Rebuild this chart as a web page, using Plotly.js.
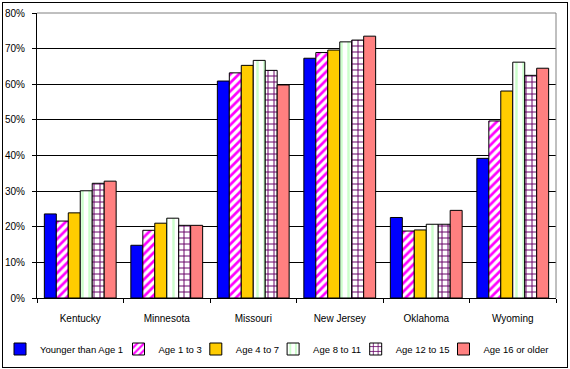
<!DOCTYPE html>
<html>
<head>
<meta charset="utf-8">
<script src="https://cdn.plot.ly/plotly-3.0.1.min.js"></script>
<style>
  body { margin: 0; background: white; }
  #wrap { position: relative; width: 570px; height: 369px; }
  #frame { position: absolute; left: 2px; top: 2px; width: 564px; height: 364px;
           border: 1px solid black; pointer-events: none; }
</style>
</head>
<body>
<div id="wrap">
  <div id="graph"></div>
  <div id="frame"></div>
</div>
<script>
// states along the x axis
var states = ['Kentucky', 'Minnesota', 'Missouri', 'New Jersey', 'Oklahoma', 'Wyoming'];

// share (%) per age group
var under1    = [23.6, 14.8, 60.9, 67.3, 22.6, 39.2];
var age1to3   = [21.6, 19.0, 63.2, 68.9, 18.8, 49.7];
var age4to7   = [23.9, 21.0, 65.3, 69.6, 19.1, 58.1];
var age8to11  = [30.1, 22.4, 66.7, 71.9, 20.7, 66.2];
var age12to15 = [32.2, 20.4, 63.9, 72.4, 20.7, 62.5];
var age16up   = [32.8, 20.4, 59.8, 73.5, 24.6, 64.5];

var seriesNames = ['Younger than Age 1', 'Age 1 to 3', 'Age 4 to 7',
                   'Age 8 to 11', 'Age 12 to 15', 'Age 16 or older'];

var yTicks = [0, 10, 20, 30, 40, 50, 60, 70, 80];

var fnt = 'Liberation Sans, Arial, sans-serif';

// figure size and plot margins, px
var L = 37, R = 14, T = 13, B = 71, W = 570, H = 369;
var plotW = W - L - R, plotH = H - T - B;

// one legend per series so they sit in one row like the original (left edge, px)
var legendLeft = [0, 118.5, 195.8, 273.1, 355.7, 443.5];
var legendMidY = 349;

// helper to make one bar trace
function bar(i, vals, color, pattern) {
  var m = { color: color, line: { color: 'black', width: 1 } };
  if (pattern) m.pattern = pattern;
  return { type: 'bar', x: states, y: vals, name: seriesNames[i], marker: m,
           legend: i === 0 ? 'legend' : 'legend' + (i + 1) };
}

var data = [
  bar(0, under1, '#0000FF'),
  bar(1, age1to3, 'white', { shape: '/', fgcolor: '#FF00FF', bgcolor: 'white', size: 6, solidity: 0.45 }),
  bar(2, age4to7, '#FFCC00'),
  bar(3, age8to11, 'white', { shape: '|', fgcolor: '#CCFFCC', bgcolor: 'white', size: 7, solidity: 0.35 }),
  bar(4, age12to15, 'white', { shape: '+', fgcolor: '#660066', bgcolor: 'white', size: 6, solidity: 0.3 }),
  bar(5, age16up, '#FF8080')
];

var layout = {
  width: W,
  height: H,
  // autoexpand off so the legends don't shove the plot area around
  margin: { l: L, r: R, t: T, b: B, pad: 0, autoexpand: false },
  paper_bgcolor: 'white',
  plot_bgcolor: 'white',
  font: { family: fnt, size: 10, color: 'black' },
  barmode: 'group',
  bargap: 0.17,
  bargroupgap: 0,
  xaxis: {
    type: 'category',
    tickson: 'boundaries',
    ticks: 'outside',
    ticklen: 4,
    tickcolor: 'black',
    ticklabelstandoff: 11,
    showline: true,
    linecolor: 'black',
    linewidth: 1,
    showgrid: false,
    tickfont: { family: fnt, size: 10 }
  },
  yaxis: {
    range: [0, 80],
    tickvals: yTicks,
    ticktext: yTicks.map(function (v) { return v + '%'; }),
    ticks: 'outside',
    ticklen: 4,
    tickcolor: 'black',
    ticklabelstandoff: 5,
    showline: true,
    linecolor: 'black',
    linewidth: 1,
    showgrid: true,
    gridcolor: 'black',
    gridwidth: 1,
    zeroline: false,
    tickfont: { family: fnt, size: 10 }
  },
  // grey plot-area border on top and right
  shapes: [
    { type: 'line', xref: 'paper', yref: 'paper', x0: 0, x1: 1, y0: 1, y1: 1,
      line: { color: '#808080', width: 1 }, layer: 'above' },
    { type: 'line', xref: 'paper', yref: 'paper', x0: 1, x1: 1, y0: 0, y1: 1,
      line: { color: '#808080', width: 1 }, layer: 'above' }
  ],
  showlegend: true
};

legendLeft.forEach(function (px, i) {
  var key = i === 0 ? 'legend' : 'legend' + (i + 1);
  layout[key] = {
    x: (px - L) / plotW, xanchor: 'left',
    y: (T + plotH - legendMidY) / plotH, yanchor: 'middle',
    itemwidth: 30,
    bgcolor: 'rgba(0,0,0,0)',
    font: { family: fnt, size: 9.5, color: 'black' }
  };
});

Plotly.newPlot('graph', data, layout, { staticPlot: true });
</script>
</body>
</html>
